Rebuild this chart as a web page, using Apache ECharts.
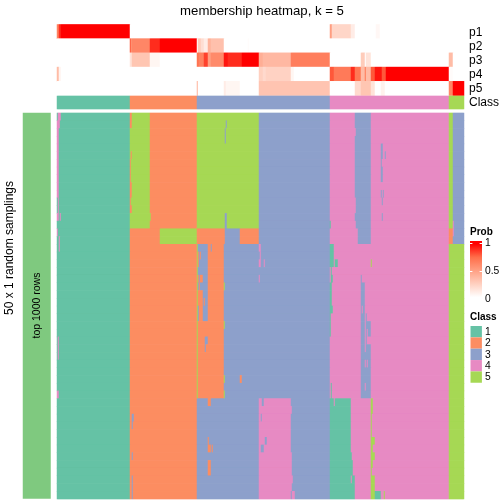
<!DOCTYPE html>
<html><head><meta charset="utf-8">
<style>html,body{margin:0;padding:0;background:#fff}#c{width:504px;height:504px}</style>
<script src="https://cdn.jsdelivr.net/npm/echarts@6/dist/echarts.min.js"></script>
</head><body><div id="c"></div>
<script>
const titleText = 'membership heatmap, k = 5';
const sampleCount = 407, rowCount = 50;
const probRowNames = ['p1','p2','p3','p4','p5'];
const classNames = ['1','2','3','4','5'];
const classColors = ['#66C2A5','#FC8D62','#8DA0CB','#E78AC3','#A6D854'];
const probTicks = ['1','0.5','0'];
// runs: [first sample, end sample (exclusive), probability]
const p1Runs = [[0,2,.65],[2,4,.9],[4,73,1],[273,275,.5],[275,294,.22],[294,298,.1],[319,323,.04]];
const p2Runs = [[73,74,.8],[74,75,.55],[75,93,.62],[93,103,.9],[103,140,1],[141,144,.27],[144,147,.18],[147,151,.1],[151,154,.4],[154,167,.33],[191,192,.02]];
const p3Runs = [[73,75,.15],[75,93,.3],[93,103,.05],[140,142,.72],[142,147,.65],[147,151,.85],[151,154,.5],[154,167,.6],[167,171,.95],[171,185,.9],[185,202,1],[202,206,.42],[206,234,.37],[234,273,.66],[304,308,.27],[309,314,.15],[392,396,.35]];
const p4Runs = [[0,2,.35],[2,4,.06],[202,206,.25],[206,209,.2],[209,234,.24],[234,237,.05],[273,277,.8],[277,294,.68],[294,298,.9],[298,304,.7],[304,308,.35],[308,309,.7],[309,314,.35],[314,318,.8],[318,325,.95],[325,329,.8],[329,392,1],[392,396,.02]];
const p5Runs = [[140,141,.4],[167,169,.1],[169,183,.05],[202,273,.31],[298,304,.2],[304,314,.3],[314,318,.15],[324,328,.07],[392,396,.62],[396,408,1]];
const probRuns = [p1Runs,p2Runs,p3Runs,p4Runs,p5Runs];
const classRuns = [[0,73,1],[73,140,2],[140,273,3],[273,392,4],[392,408,5]];
// blocks: [class, first row, last row, first sample, end sample]
const baseBlocks = [
 [1,0,49,0,73],[5,0,14,73,93],[2,0,14,93,140],[5,0,14,140,202],[3,0,14,202,273],[4,0,14,273,298],[3,0,14,298,314],[4,0,49,314,392],[5,0,14,392,396],[3,0,14,396,408],
 [2,15,16,73,103],[5,15,16,103,140],[2,15,16,140,168],[3,15,16,168,183],[2,15,16,183,202],[3,15,16,202,273],[4,15,16,273,301],[3,15,16,301,314],[2,15,16,392,396],[3,15,16,396,408],
 [2,17,49,73,140],[2,17,36,140,167],[3,17,36,167,273],[4,17,36,273,314],[5,17,49,392,408],
 [3,37,49,140,202],[4,37,49,202,234],[3,37,49,234,273],[1,37,49,273,294],[4,37,49,294,314],[5,17,36,140,141]
];
const leftEdgeBlocks = [
 [4,0,0,1,4],[4,1,1,0,3],[4,2,10,0,2],[4,11,12,1,2],[4,13,13,0,2],[4,13,13,3,4],[4,15,15,0,1],[4,16,17,2,3],[4,29,31,1,2],[4,36,36,0,2],
 [2,0,1,73,75],[2,5,5,74,75],[2,6,8,73,74],[2,9,10,73,75],[2,11,11,73,74],[2,12,12,73,75],[5,13,13,93,94],
 [3,39,39,75,77],[3,40,40,75,76],[3,44,44,75,76],[3,47,49,75,76]
];
const midBlocks = [
 [3,1,1,169,170],[3,2,3,168,169],[3,13,14,168,170],
 [3,17,17,141,151],[3,17,17,154,155],[3,18,18,142,143],[3,18,18,144,151],[3,19,19,142,151],[3,20,20,141,151],[3,21,21,142,143],[3,21,21,146,151],
 [3,22,22,141,142],[3,22,22,143,151],[3,23,23,146,151],[3,24,24,146,147],[3,24,24,148,151],[3,25,26,141,142],[3,25,26,146,151],[3,29,29,148,151],[3,30,30,148,149],
 [5,22,22,167,168],[5,27,27,167,168],[5,34,34,167,168],[5,36,36,167,168],[2,34,34,183,185],
 [4,17,17,202,204],[4,18,18,203,204],[4,19,19,202,204],[4,19,19,207,208],[4,21,21,202,203],
 [2,37,37,151,154],[2,42,42,151,152],[2,43,43,151,154],[2,43,43,155,156],[2,45,46,151,154],
 [3,37,37,205,207],[3,39,39,204,205],[3,42,42,208,210],[3,43,43,204,207],
 [4,38,38,234,235],[4,44,46,234,235],[4,48,48,234,235],[4,47,47,234,236],[4,49,49,235,238]
];
const rightBlocks = [
 [4,2,2,298,299],[4,11,12,298,299],[4,14,14,298,299],
 [3,4,5,324,326],[3,5,5,328,329],[3,6,6,324,325],[3,7,8,324,326],[3,10,10,324,325],[3,10,10,326,327],[3,11,11,325,326],[3,13,13,325,326],
 [1,14,14,273,274],[4,14,15,396,397],
 [1,17,18,273,277],[1,19,19,273,277],[1,19,19,278,281],[1,20,20,274,275],[1,21,21,274,276],[1,22,24,273,275],[1,25,25,273,276],[1,26,28,273,274],[1,35,36,274,275],[5,19,19,314,315],
 [3,21,21,304,305],[3,22,24,304,308],[3,25,25,304,305],[3,25,25,306,308],[3,26,26,304,308],[3,26,26,309,310],[3,27,27,304,308],[3,27,27,309,314],
 [3,28,28,304,308],[3,28,28,309,310],[3,28,28,311,314],[3,29,29,304,308],[3,29,29,309,310],[3,30,30,304,308],[3,30,30,309,314],[3,31,31,304,314],
 [3,32,32,304,308],[3,32,32,309,310],[3,32,32,311,314],[3,33,34,304,314],[3,35,35,304,308],[3,35,35,309,314],[3,36,36,304,314],
 [4,37,37,277,278],[1,44,44,294,295],[1,45,46,294,296],[1,47,47,295,298],[1,48,49,294,298],
 [5,37,38,314,316],[5,39,41,314,315],[5,42,42,314,318],[5,43,43,314,316],[5,44,44,314,318],[5,45,45,314,316],[5,46,46,314,315],[5,47,48,314,318],[5,49,49,314,318],[1,49,49,318,324],[5,49,49,327,328]
];

const samples = Array.from({length: sampleCount}, (_, i) => 's' + i);
const rowsAll = Array.from({length: rowCount}, (_, i) => 'r' + i);

const matrix = rowsAll.map(() => new Array(sampleCount).fill(1));
[baseBlocks, leftEdgeBlocks, midBlocks, rightBlocks].forEach(list => list.forEach(([c, r0, r1, s0, s1]) => {
  for (let r = r0; r <= r1; r++) for (let s = s0; s < Math.min(s1, sampleCount); s++) matrix[r][s] = c;
}));
const mainData = [];
matrix.forEach((row, r) => row.forEach((c, s) => mainData.push([s, r, c])));
const classData = [];
classRuns.forEach(([s0, s1, c]) => { for (let s = s0; s < Math.min(s1, sampleCount); s++) classData.push([s, 0, c]); });
const probData = [];
probRuns.forEach((runs, r) => {
  const line = new Array(sampleCount).fill(0);
  runs.forEach(([s0, s1, v]) => { for (let s = s0; s < Math.min(s1, sampleCount); s++) line[s] = v; });
  line.forEach((v, s) => probData.push([s, r, v]));
});

const FONT = '"Liberation Sans", Arial, sans-serif';
const probColors = ['#FFFFFF','#FFD0C0','#FF9E81','#FF6E4A','#FF0000'];
const txt = (x, y, text, size, extra) => ({type:'text', x, y, silent:true, z:100,
  style:Object.assign({text, fontSize:size, fontFamily:FONT, fill:'#000', textVerticalAlign:'middle'}, extra||{})});

const graphics = [];
probRowNames.forEach((n, i) => graphics.push(txt(469, 32.5 + i * 14, n, 12)));
graphics.push(txt(469, 103, 'Class', 12));
graphics.push(txt(10, 248, '50 x 1 random samplings', 12, {textAlign:'center'}));
graphics[graphics.length-1].rotation = Math.PI/2; 
graphics.push(txt(37.5, 305.5, 'top 1000 rows', 10.5, {textAlign:'center'}));
graphics[graphics.length-1].rotation = Math.PI/2;
graphics.push(txt(470, 232.5, 'Prob', 10, {fontWeight:'bold'}));
graphics.push({type:'rect', shape:{x:470,y:241,width:12,height:58}, silent:true,
  style:{fill:new echarts.graphic.LinearGradient(0,0,0,1,[
    {offset:0,color:'#FF0000'},{offset:.05,color:'#FF0000'},
    {offset:.28,color:'#FF6E4A'},{offset:.5,color:'#FF9E81'},{offset:.74,color:'#FFD0C0'},{offset:.97,color:'#FFFFFF'},{offset:1,color:'#FFFFFF'}])}});
[243.5, 271.5].forEach(y => {
  graphics.push({type:'rect', shape:{x:470,y:y-.5,width:2.4,height:1}, silent:true, style:{fill:'#fff'}});
  graphics.push({type:'rect', shape:{x:479.6,y:y-.5,width:2.4,height:1}, silent:true, style:{fill:'#fff'}});
});
probTicks.forEach((t, i) => graphics.push(txt(485, 243.5 + i * 28, t, 10.3)));
graphics.push(txt(470, 317, 'Class', 10, {fontWeight:'bold'}));
classNames.forEach((n, i) => {
  graphics.push({type:'rect', shape:{x:470.5,y:326 + i * 11.35,width:11.4,height:11.35}, silent:true,
    style:{fill:classColors[i]}});
  graphics.push(txt(485, 332 + i * 11.35, n, 10.3));
});

const axisOff = (data, inverse) => ({type:'category', data, show:false, inverse:!!inverse});
const pieces = classColors.map((color, i) => ({value:i+1, color}));
pieces.push({value:6, color:'#7FC97F'});

const chart = echarts.init(document.getElementById('c'), null, {renderer:'canvas', width:504, height:504});
chart.setOption({
  animation:false,
  backgroundColor:'#fff',
  title:{text:titleText, left:257, top:0, textAlign:'center',
    textStyle:{fontFamily:FONT, fontSize:13.2, fontWeight:'normal', color:'#000'}},
  grid:[
    {left:57, top:24.5, width:407, height:71},
    {left:57, top:96, width:407, height:13},
    {left:57, top:113, width:407, height:386},
    {left:23, top:113, width:27.5, height:385.5}
  ],
  xAxis:[axisOff(samples),axisOff(samples),axisOff(samples),axisOff(['g'])].map((a,i)=>Object.assign(a,{gridIndex:i})),
  yAxis:[axisOff(probRowNames,true),axisOff(['Class'],true),axisOff(rowsAll,true),axisOff(['rows'],true)].map((a,i)=>Object.assign(a,{gridIndex:i})),
  visualMap:[
    {type:'continuous', show:false, min:0, max:1, seriesIndex:0, dimension:2, inRange:{color:probColors}},
    {type:'piecewise', show:false, seriesIndex:[1,2,3], dimension:2, pieces}
  ],
  series:[
    {type:'heatmap', xAxisIndex:0, yAxisIndex:0, data:probData, progressive:0, animation:false, silent:true},
    {type:'heatmap', xAxisIndex:1, yAxisIndex:1, data:classData, progressive:0, animation:false, silent:true},
    {type:'heatmap', xAxisIndex:2, yAxisIndex:2, data:mainData, progressive:0, animation:false, silent:true},
    {type:'heatmap', xAxisIndex:3, yAxisIndex:3, data:[[0,0,6]], progressive:0, animation:false, silent:true}
  ],
  graphic:graphics
});
</script></body></html>
